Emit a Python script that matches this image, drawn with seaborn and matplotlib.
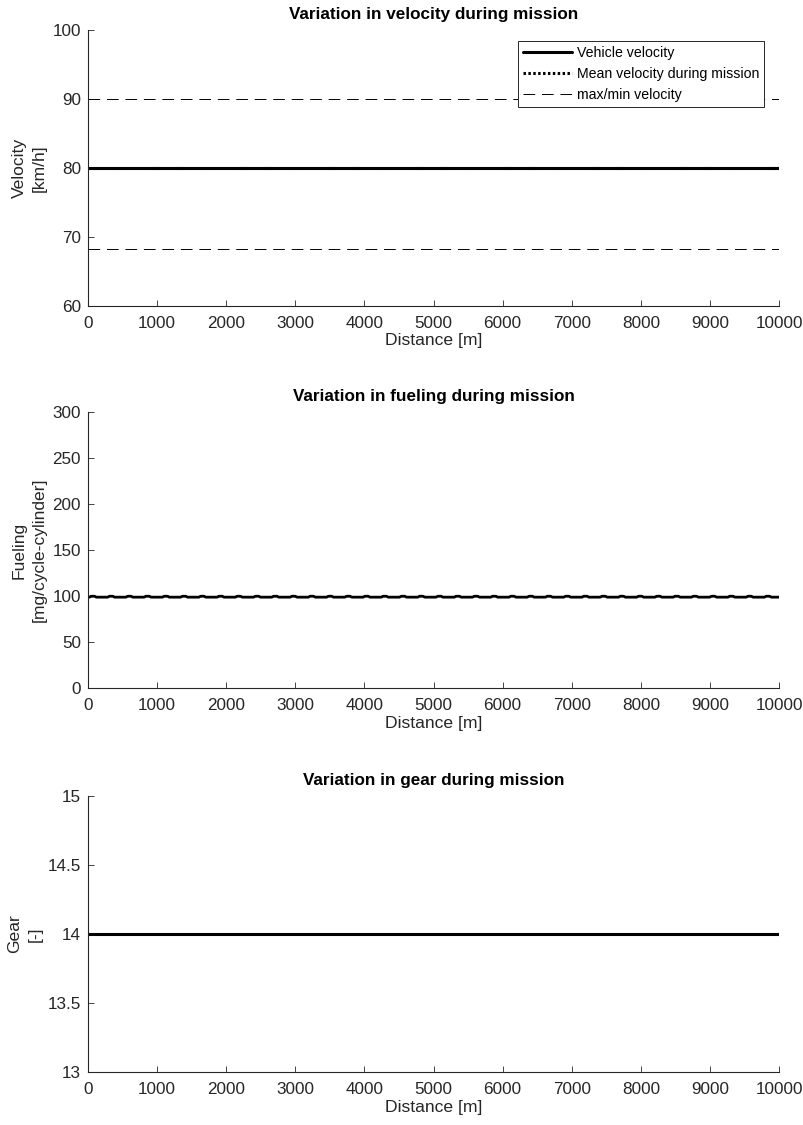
import matplotlib
matplotlib.use("Agg")
import matplotlib.pyplot as plt
import seaborn as sns
import pandas as pd

# Mission data
distance_m = [0, 10000]
vehicle_velocity = [80, 80]
mean_velocity = [80, 80]
max_velocity = 90.0
min_velocity = 68.3

# Fueling: base level with small periodic peaks
fuel_base = 98.8
fuel_peak = 99.8
fuel_peak_positions = [70, 334, 598, 862, 1126, 1390, 1654, 1918, 2182, 2446,
                       2710, 2974, 3238, 3502, 3766, 4030, 4294, 4558, 4822,
                       5086, 5350, 5614, 5878, 6142, 6406, 6670, 6934, 7198,
                       7462, 7726, 7990, 8254, 8518, 8782, 9046, 9310, 9574,
                       9838]
gear = [14, 14]

x_ticks = [0, 1000, 2000, 3000, 4000, 5000, 6000, 7000, 8000, 9000, 10000]

sns.set_style("ticks")
plt.rcParams["font.family"] = ["Liberation Sans", "DejaVu Sans"]
dark = "#262626"
plt.rcParams.update({
    "xtick.direction": "in", "ytick.direction": "in",
    "xtick.major.size": 4.5, "ytick.major.size": 4.5,
    "xtick.color": dark, "ytick.color": dark,
    "xtick.labelcolor": dark, "ytick.labelcolor": dark,
    "axes.edgecolor": dark, "axes.linewidth": 0.8,
    "xtick.major.width": 0.6, "ytick.major.width": 0.6,
    "xtick.labelsize": 12.3, "ytick.labelsize": 12.3,
})

TITLE_FS = 12.3
LABEL_FS = 12.6

fig = plt.figure(figsize=(8.04, 11.25), dpi=100)
left, width, height = 0.1095, 0.8595, 0.2453
ax1 = fig.add_axes([left, 0.728, width, height])
ax2 = fig.add_axes([left, 0.3884, width, height])
ax3 = fig.add_axes([left, 0.0471, width, height])

# Fueling polyline built from the peak positions
fx, fy = [0], [fuel_base]
for c in fuel_peak_positions:
    fx += [c - 50, c - 25, c + 25, c + 50]
    fy += [fuel_base, fuel_peak, fuel_peak, fuel_base]
fx.append(10000)
fy.append(fuel_base)
fuel_df = pd.DataFrame({"d": fx, "f": fy})

vel_df = pd.DataFrame({"d": distance_m, "v": vehicle_velocity, "m": mean_velocity})

# Velocity panel
sns.lineplot(data=vel_df, x="d", y="v", ax=ax1, color="black", lw=2.2,
             label="Vehicle velocity")
sns.lineplot(data=vel_df, x="d", y="m", ax=ax1, color="black", lw=2.2,
             ls=(0, (0.8, 0.8)), label="Mean velocity during mission")
sns.lineplot(x=distance_m, y=[max_velocity] * 2, ax=ax1, color="black",
             lw=0.7, ls=(0, (12, 7)), label="max/min velocity")
sns.lineplot(x=distance_m, y=[min_velocity] * 2, ax=ax1, color="black",
             lw=0.7, ls=(0, (12, 7)))
ax1.set_ylim(60, 100)
ax1.set_yticks([60, 70, 80, 90, 100])
ax1.set_title("Variation in velocity during mission", fontsize=TITLE_FS,
              fontweight="bold", color="black", pad=8)
ax1.set_ylabel("Velocity\n[km/h]", fontsize=LABEL_FS, color=dark,
               linespacing=1.45)
leg = ax1.legend(loc="upper right", bbox_to_anchor=(0.978, 0.960),
                 borderaxespad=0, fontsize=10.2, frameon=True, fancybox=False,
                 edgecolor=dark, framealpha=1, handlelength=3.4,
                 handletextpad=0.35, labelspacing=0.5, borderpad=0.35)
leg.get_frame().set_linewidth(0.7)
for t in leg.get_texts():
    t.set_color("black")

# Fueling panel
sns.lineplot(data=fuel_df, x="d", y="f", ax=ax2, color="black", lw=2.0)
ax2.set_ylim(0, 300)
ax2.set_yticks([0, 50, 100, 150, 200, 250, 300])
ax2.set_title("Variation in fueling during mission", fontsize=TITLE_FS,
              fontweight="bold", color="black", pad=8)
ax2.set_ylabel("Fueling\n[mg/cycle-cylinder]", fontsize=LABEL_FS, color=dark,
               linespacing=1.45)

# Gear panel
sns.lineplot(x=distance_m, y=gear, ax=ax3, color="black", lw=2.2)
ax3.set_ylim(13, 15)
ax3.set_yticks([13, 13.5, 14, 14.5, 15])
ax3.set_yticklabels(["13", "13.5", "14", "14.5", "15"])
ax3.set_title("Variation in gear during mission", fontsize=TITLE_FS,
              fontweight="bold", color="black", pad=8)
ax3.set_ylabel("Gear\n[-]", fontsize=LABEL_FS, color=dark, linespacing=1.45)

for ax in (ax1, ax2, ax3):
    ax.set_xlim(0, 10000)
    ax.set_xticks(x_ticks)
    ax.set_xlabel("Distance [m]", fontsize=LABEL_FS, color=dark, labelpad=2)
    ax.tick_params(axis="x", pad=7)
    ax.tick_params(axis="y", pad=5)
    sns.despine(ax=ax)
    ax.set_facecolor("white")

fig.savefig("out.png", dpi=100, facecolor="white")
